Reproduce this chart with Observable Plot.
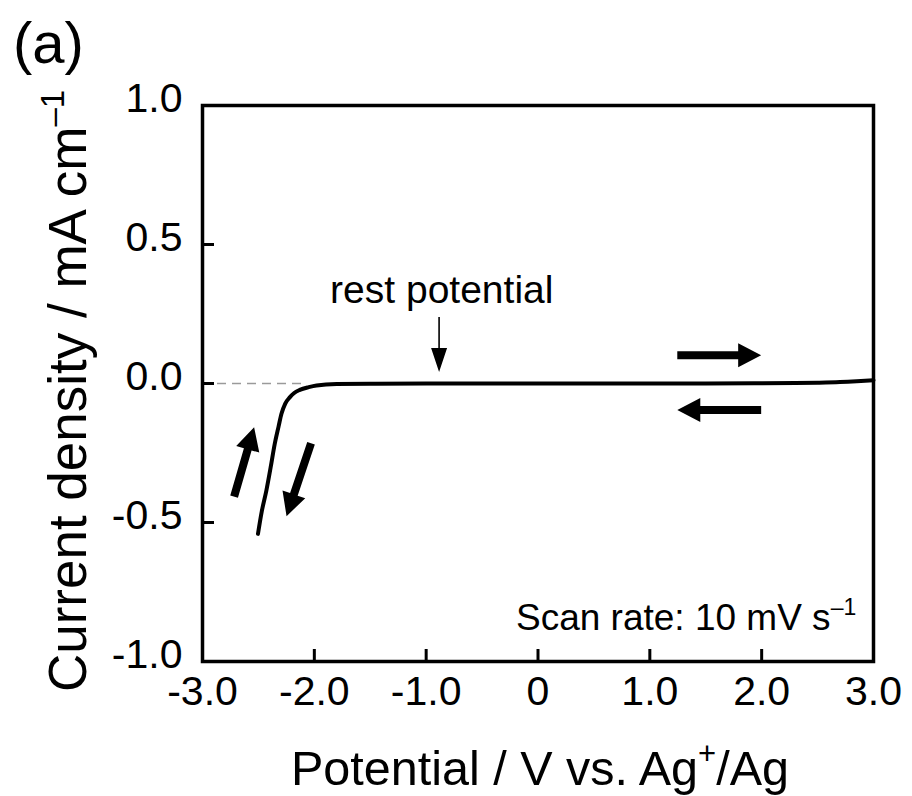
<!DOCTYPE html>
<html><head><meta charset="utf-8">
<script src="https://cdn.jsdelivr.net/npm/d3@7"></script>
<script src="https://cdn.jsdelivr.net/npm/@observablehq/plot@0.6"></script>
<style>body{margin:0;background:#fff} svg{display:block}</style>
</head><body><div id="chart"></div>
<script>
// ---- data ----
const potential = [-2.504, -2.47, -2.429, -2.39, -2.354, -2.32, -2.294, -2.26, -2.22, -2.18, -2.13, -2.05, -1.98, -1.8, -1.5, -1.0, -0.5, 0, 0.5, 1.0, 1.5, 2.0, 2.3, 2.5, 2.7, 2.85, 3.0];
const current   = [-0.541, -0.46, -0.385, -0.30, -0.217, -0.155, -0.109, -0.072, -0.05, -0.034, -0.023, -0.013, -0.007, -0.002, -0.001, 0, 0, 0, 0, 0, 0, 0.001, 0.002, 0.003, 0.005, 0.008, 0.012];
const xTicks = [-3, -2, -1, 0, 1, 2, 3];
const xTickLabels = ["-3.0", "-2.0", "-1.0", "0", "1.0", "2.0", "3.0"];
const yTicks = [-1, -0.5, 0, 0.5, 1];
const yTickLabels = ["-1.0", "-0.5", "0.0", "0.5", "1.0"];
// scan-direction arrows: tail and tip in data units
const arrowTails = [[1.25, 0.10], [2.0, -0.097], [-2.713, -0.409], [-2.025, -0.217]];
const arrowTips  = [[2.0, 0.10], [1.25, -0.097], [-2.534, -0.159], [-2.244, -0.479]];
const restTail = [-0.88, 0.237];
const restTip  = [-0.88, 0.04];
const restLabel = {x: -0.856, y: 0.288, text: "rest potential"};
const scanLabel = {x: 2.85, y: -0.888, text: "Scan rate: 10 mV s", sup: "\u20131"};

// ---- layout ----
const FONT = "'Liberation Sans', Arial, Helvetica, sans-serif";
const W = 912, H = 796, mL = 202, mR = 39, mT = 105, mB = 135;
const fw = W - mL - mR, fh = H - mT - mB;
const data = potential.map((x, i) => ({x, y: current[i]}));

const chart = Plot.plot({
  width: W, height: H,
  marginLeft: mL, marginRight: mR, marginTop: mT, marginBottom: mB,
  style: {fontFamily: FONT, background: "white", color: "black", overflow: "visible"},
  x: {domain: [-3, 3]},
  y: {domain: [-1, 1]},
  marks: [
    Plot.ruleY([0], {x1: -3, x2: -2.1, stroke: "#9a9a9a", strokeWidth: 1.5, strokeDasharray: "9,6"}),
    Plot.line(data, {x: "x", y: "y", stroke: "black", strokeWidth: 4, curve: "monotone-x"}),
    Plot.tickX(xTicks, {x: d => d, insetTop: fh - 12, strokeWidth: 3}),
    Plot.tickY(yTicks, {y: d => d, insetRight: fw - 12, strokeWidth: 3}),
    Plot.axisX(xTicks, {tickSize: 0, tickPadding: 14, fontSize: 41, label: null,
      tickFormat: d => xTickLabels[xTicks.indexOf(d)]}),
    Plot.axisY(yTicks, {anchor: "left", tickSize: 0, tickPadding: 20, fontSize: 41, dy: -7, label: null,
      tickFormat: d => yTickLabels[yTicks.indexOf(d)]}),
    Plot.frame({stroke: "black", strokeWidth: 3.5})
  ]
});
document.getElementById("chart").appendChild(chart);

const sx = chart.scale("x"), sy = chart.scale("y");
const px = p => [sx.apply(p[0]), sy.apply(p[1])];
const svg = d3.select(chart);
const g = svg.append("g");

function arrowPoly(t0, t1, w, L, HW) {
  const [x0, y0] = px(t0), [x1, y1] = px(t1);
  const dx = x1 - x0, dy = y1 - y0, len = Math.hypot(dx, dy);
  const ux = dx / len, uy = dy / len, nx = -uy, ny = ux;
  const bx = x1 - ux * L, by = y1 - uy * L;
  const pts = [
    [x0 + nx * w / 2, y0 + ny * w / 2],
    [bx + nx * w / 2, by + ny * w / 2],
    [bx + nx * HW, by + ny * HW],
    [x1, y1],
    [bx - nx * HW, by - ny * HW],
    [bx - nx * w / 2, by - ny * w / 2],
    [x0 - nx * w / 2, y0 - ny * w / 2]
  ];
  return pts.map(p => p.join(",")).join(" ");
}
arrowTails.forEach((t, i) => {
  g.append("polygon").attr("points", arrowPoly(t, arrowTips[i], 8, 23, 12)).attr("fill", "black");
});
g.append("polygon").attr("points", arrowPoly(restTail, restTip, 1.6, 24, 8)).attr("fill", "black");

// annotations
const rl = px([restLabel.x, restLabel.y]);
g.append("text").attr("x", rl[0]).attr("y", rl[1]).attr("text-anchor", "middle")
  .attr("font-family", FONT).attr("font-size", 39).text(restLabel.text);

const sl = px([scanLabel.x, scanLabel.y]);
const st = g.append("text").attr("x", sl[0]).attr("y", sl[1]).attr("text-anchor", "end")
  .attr("font-family", FONT).attr("font-size", 37);
st.append("tspan").text(scanLabel.text);
st.append("tspan").attr("font-size", 23).attr("dy", -15).text(scanLabel.sup);

// axis titles
const yt = g.append("text").attr("transform", `translate(86,391) rotate(-90)`).attr("text-anchor", "middle")
  .attr("font-family", FONT).attr("font-size", 53);
yt.append("tspan").text("Current density / mA cm");
yt.append("tspan").attr("font-size", 33).attr("dy", -22).text("\u20131");

const xt = g.append("text").attr("x", 540).attr("y", 785).attr("text-anchor", "middle")
  .attr("font-family", FONT).attr("font-size", 48.5);
xt.append("tspan").text("Potential / V vs. Ag");
xt.append("tspan").attr("font-size", 31).attr("dy", -21).text("+");
xt.append("tspan").attr("dy", 21).text("/Ag");

g.append("text").attr("x", 13).attr("y", 63).attr("text-anchor", "start")
  .attr("font-family", FONT).attr("font-size", 58).text("(a)");
</script></body></html>
